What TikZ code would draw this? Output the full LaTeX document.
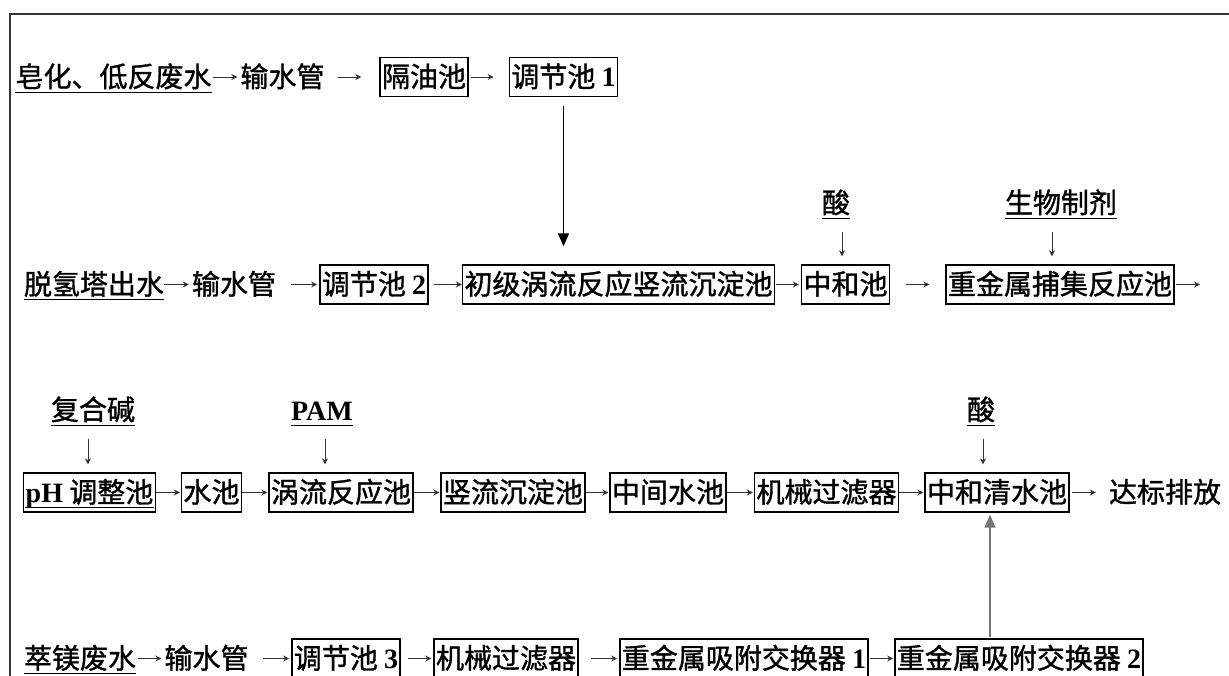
\documentclass[tikz,border=0pt]{standalone}
\usepackage{fontspec}
\setmainfont{Noto Sans CJK SC}[FakeBold=1.2]
\newfontfamily\tnr{Liberation Serif}
\usetikzlibrary{arrows.meta}
\newcommand{\lat}[1]{{\tnr\bfseries #1}}
\begin{document}
\begin{tikzpicture}[x=1pt,y=-1pt,
  every node/.style={font=\fontsize{28}{30}\selectfont, inner xsep=0pt, inner ysep=0pt, text height=24pt, text depth=4pt},
  box/.style={draw, line width=1.4pt, inner xsep=2pt, minimum height=39pt},
  ul/.style={append after command={([yshift=-1pt]\tikzlastnode.south west) edge[line width=1.3pt,-] ([yshift=-1pt]\tikzlastnode.south east)}},
  ar/.style={-{Stealth[length=6pt,width=6pt]}, line width=0.9pt, draw=black!80},
  big/.style={-{Triangle[length=13pt,width=11pt]}, line width=1.5pt},
]
\useasboundingbox (0,0) rectangle (1229,676);
\draw[line width=2.2pt, black!80] (10,676) -- (10,14) -- (1229,14);

% row 1
\node[ul] (n1a) at (113.5,77) {皂化、低反废水};
\node (n1b) at (282.5,77) {输水管};
\node[box] (b1) at (424,77) {隔油池};
\node[box] (b2) at (563.5,77) {调节池 \lat{1}};

% row 2
\node[ul] (n2a) at (94,284.5) {脱氢塔出水};
\node (n2b) at (234,284.5) {输水管};
\node[box] (b3) at (374,284.5) {调节池 \lat{2}};
\node[box] (b4) at (618.5,284.5) {初级涡流反应竖流沉淀池};
\node[box] (b5) at (845.5,284.5) {中和池};
\node[box] (b6) at (1060,284.5) {重金属捕集反应池};
\coordinate (e1) at (1200,284.5);
\node[ul] (acid1) at (836,203) {酸};
\node[ul] (bio) at (1061,203) {生物制剂};

% row 3
\node[box] (c1) at (89.5,492.5) {\lat{pH} 调整池};
\node[box] (c2) at (211.5,492.5) {水池};
\node[box] (c3) at (341,492.5) {涡流反应池};
\node[box] (c4) at (513,492.5) {竖流沉淀池};
\node[box] (c5) at (668,492.5) {中间水池};
\node[box] (c6) at (826.5,492.5) {机械过滤器};
\node[box] (c7) at (997,492.5) {中和清水池};
\node (c8) at (1165,492.5) {达标排放};
\node[ul] (alk) at (93,410) {复合碱};
\node[ul] (pam) at (322,410) {\lat{PAM}};
\node[ul] (acid2) at (981,410) {酸};
\draw[line width=1.3pt] ([xshift=2pt,yshift=-15pt]c1.west) -- ([xshift=-2pt,yshift=-15pt]c1.east);

% row 4
\node[ul] (d1) at (80,658.5) {萃镁废水};
\node (d2) at (206.5,658.5) {输水管};
\node[box] (d3) at (346,658.5) {调节池 \lat{3}};
\node[box] (d4) at (506,658.5) {机械过滤器};
\node[box] (d5) at (744,658.5) {重金属吸附交换器 \lat{1}};
\node[box] (d6) at (1019,658.5) {重金属吸附交换器 \lat{2}};

% row 1 connectors
\draw[ar, shorten <=1pt, shorten >=3pt] (n1a) -- (n1b);
\draw[ar, shorten <=13pt, shorten >=18pt] (n1b) -- (b1);
\draw[ar, shorten <=2pt, shorten >=15pt] (b1) -- (b2);
\draw[big, shorten <=9pt, shorten >=18pt] (b2.south) -- (b2.south |- b4.north);

% row 2 connectors
\draw[ar, shorten >=3pt] (n2a) -- (n2b);
\draw[ar, shorten <=15pt, shorten >=2pt] (n2b) -- (b3);
\draw[ar, shorten <=5pt] (b3) -- (b4);
\draw[ar, shorten <=1pt, shorten >=2pt] (b4) -- (b5);
\draw[ar, shorten <=16pt, shorten >=16pt] (b5) -- (b6);
\draw[ar, shorten <=1pt] (b6) -- (e1);
\draw[ar, shorten <=15pt, shorten >=8pt] ([xshift=6pt]acid1.south) -- ([xshift=6pt]acid1.south |- b5.north);
\draw[ar, shorten <=15pt, shorten >=8pt] ([xshift=-9pt]bio.south) -- ([xshift=-9pt]bio.south |- b6.north);

% row 3 connectors
\draw[ar, shorten >=1pt] (c1) -- (c2);
\draw[ar, shorten >=1pt] (c2) -- (c3);
\draw[ar, shorten >=1pt] (c3) -- (c4);
\draw[ar, shorten >=1pt] (c4) -- (c5);
\draw[ar, shorten >=1pt] (c5) -- (c6);
\draw[ar, shorten >=1pt] (c6) -- (c7);
\draw[ar, shorten <=2pt, shorten >=13pt] (c7) -- (c8);
\draw[ar, shorten <=15pt, shorten >=8pt] ([xshift=-5pt]alk.south) -- ([xshift=-5pt]alk.south |- c1.north);
\draw[ar, shorten <=15pt, shorten >=8pt] ([xshift=3pt]pam.south) -- ([xshift=3pt]pam.south |- c3.north);
\draw[ar, shorten <=15pt, shorten >=8pt] ([xshift=2pt]acid2.south) -- ([xshift=2pt]acid2.south |- c7.north);

% row 4 connectors
\draw[ar, shorten <=2pt, shorten >=3pt] (d1) -- (d2);
\draw[ar, shorten <=14pt, shorten >=2pt] (d2) -- (d3);
\draw[ar, shorten <=7pt, shorten >=2pt] (d3) -- (d4);
\draw[ar, shorten <=12pt, shorten >=2pt] (d4) -- (d5);
\draw[ar, shorten <=1pt, shorten >=1pt] (d5) -- (d6);
\draw[big, draw=black!55, fill=black, shorten <=1pt, shorten >=2pt] ([xshift=-29pt]d6.north) -- ([xshift=-29pt]d6.north |- c7.south);
\end{tikzpicture}
\end{document}
